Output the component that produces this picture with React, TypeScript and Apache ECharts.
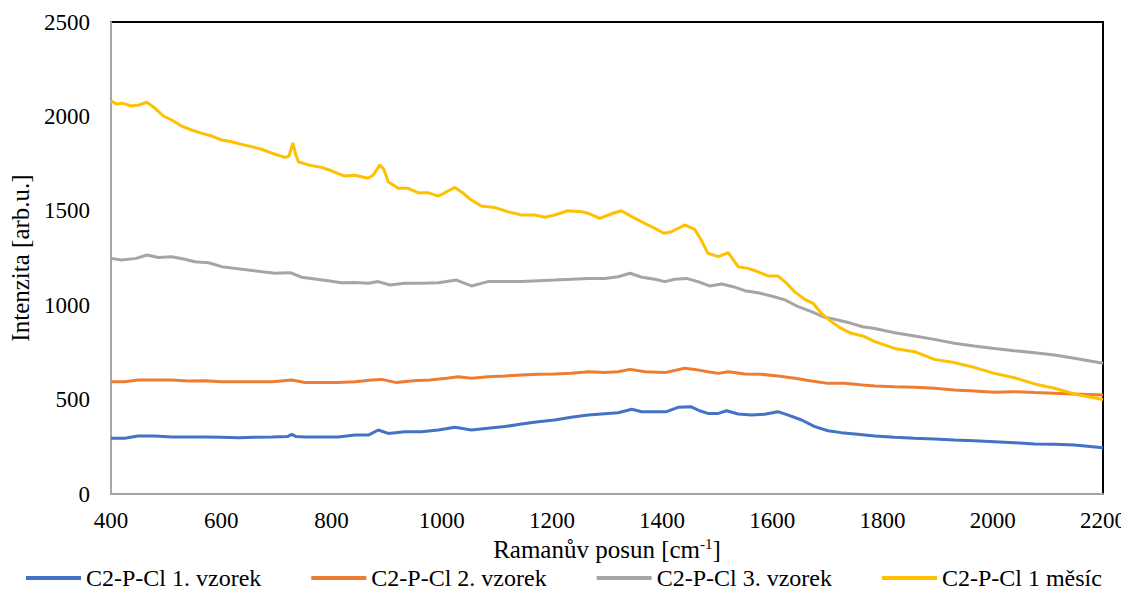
import React, { useEffect, useRef } from "react";
import * as echarts from "echarts";

const seriesNames = ["C2-P-Cl 1. vzorek", "C2-P-Cl 2. vzorek", "C2-P-Cl 3. vzorek", "C2-P-Cl 1 měsíc"];
const seriesColors = ["#4472C4", "#ED7D31", "#A5A5A5", "#FFC000"];

const blueX = [400, 425, 449, 479, 510, 540, 570, 601, 631, 661, 692, 720, 728, 736, 752, 782, 812, 843, 867, 885, 903, 933, 963, 994, 1024, 1054, 1084, 1115, 1145, 1175, 1205, 1235, 1266, 1296, 1320, 1345, 1363, 1387, 1408, 1429, 1453, 1468, 1483, 1502, 1517, 1538, 1562, 1586, 1610, 1629, 1653, 1677, 1701, 1725, 1750, 1786, 1822, 1858, 1894, 1930, 1966, 2003, 2039, 2076, 2112, 2148, 2200];
const blueY = [295, 295, 307, 307, 302, 302, 302, 300, 298, 300, 302, 304, 316, 304, 302, 302, 302, 312, 312, 339, 321, 330, 330, 339, 353, 339, 348, 357, 371, 383, 392, 406, 418, 425, 430, 449, 436, 436, 436, 459, 462, 441, 427, 427, 441, 424, 418, 422, 436, 418, 392, 357, 335, 325, 318, 307, 300, 295, 291, 286, 282, 277, 272, 265, 263, 260, 245];

const orangeX = [400, 425, 449, 479, 510, 540, 570, 601, 631, 661, 692, 728, 752, 782, 812, 843, 873, 891, 918, 948, 979, 1009, 1030, 1054, 1084, 1115, 1145, 1175, 1205, 1235, 1266, 1296, 1320, 1342, 1369, 1405, 1441, 1459, 1483, 1502, 1520, 1550, 1580, 1610, 1641, 1671, 1701, 1731, 1764, 1786, 1822, 1858, 1894, 1930, 1966, 2003, 2039, 2076, 2112, 2148, 2200];
const orangeY = [595, 595, 604, 604, 604, 598, 600, 595, 595, 595, 595, 604, 591, 590, 590, 595, 604, 607, 590, 600, 604, 613, 621, 613, 621, 625, 630, 634, 636, 639, 648, 643, 648, 660, 648, 643, 666, 660, 648, 639, 648, 636, 634, 625, 613, 598, 586, 586, 577, 572, 568, 565, 560, 551, 546, 539, 542, 537, 533, 530, 524];

const grayX = [400, 419, 446, 465, 486, 510, 534, 552, 577, 601, 625, 649, 674, 698, 725, 746, 770, 794, 818, 843, 867, 885, 906, 933, 963, 994, 1027, 1054, 1084, 1115, 1145, 1175, 1205, 1235, 1266, 1296, 1320, 1342, 1363, 1387, 1405, 1423, 1444, 1465, 1486, 1508, 1529, 1550, 1574, 1598, 1623, 1647, 1671, 1695, 1719, 1743, 1764, 1786, 1822, 1858, 1894, 1930, 1966, 2003, 2039, 2076, 2112, 2148, 2200];
const grayY = [1248, 1239, 1248, 1266, 1253, 1257, 1243, 1230, 1225, 1204, 1195, 1186, 1177, 1169, 1172, 1148, 1139, 1130, 1119, 1120, 1116, 1125, 1107, 1116, 1116, 1119, 1133, 1102, 1125, 1125, 1125, 1130, 1133, 1137, 1142, 1142, 1151, 1169, 1148, 1137, 1125, 1137, 1142, 1125, 1102, 1112, 1098, 1077, 1066, 1049, 1028, 992, 966, 936, 922, 904, 886, 877, 854, 837, 819, 798, 784, 771, 759, 748, 736, 719, 692];

const yellowX = [400, 410, 420, 437, 450, 465, 480, 495, 510, 528, 546, 565, 583, 601, 619, 637, 655, 673, 692, 716, 723, 730, 735, 740, 758, 782, 800, 824, 843, 866, 876, 888, 895, 903, 921, 939, 957, 975, 994, 1009, 1024, 1039, 1054, 1072, 1096, 1120, 1145, 1169, 1187, 1205, 1229, 1254, 1266, 1287, 1311, 1326, 1345, 1368, 1387, 1403, 1417, 1441, 1459, 1471, 1483, 1502, 1520, 1538, 1556, 1574, 1592, 1610, 1625, 1640, 1659, 1674, 1689, 1707, 1725, 1743, 1764, 1786, 1822, 1858, 1894, 1930, 1966, 2003, 2039, 2076, 2112, 2148, 2200];
const yellowY = [2083, 2066, 2070, 2055, 2060, 2075, 2043, 2002, 1981, 1949, 1928, 1910, 1896, 1875, 1866, 1852, 1840, 1826, 1805, 1783, 1790, 1860, 1800, 1760, 1743, 1730, 1712, 1684, 1688, 1672, 1690, 1743, 1720, 1654, 1619, 1619, 1596, 1596, 1578, 1601, 1624, 1593, 1557, 1525, 1518, 1495, 1478, 1478, 1466, 1478, 1500, 1495, 1487, 1460, 1487, 1500, 1469, 1434, 1407, 1381, 1389, 1425, 1402, 1345, 1275, 1257, 1278, 1204, 1195, 1177, 1155, 1155, 1119, 1072, 1031, 1010, 957, 913, 877, 851, 837, 807, 771, 754, 713, 696, 671, 639, 616, 583, 560, 530, 501];

const xMin = 400, xMax = 2200, xStep = 200;
const yMin = 0, yMax = 2500, yStep = 500;

const FONT = "Liberation Serif";

function pairs(xs: number[], ys: number[]) {
  return xs.map((x, i) => [x, ys[i]]);
}

export default function App() {
  const ref = useRef<HTMLDivElement>(null);
  useEffect(() => {
    if (!ref.current) return;
    const chart = echarts.init(ref.current, undefined, { renderer: "svg" });
    const all = [pairs(blueX, blueY), pairs(orangeX, orangeY), pairs(grayX, grayY), pairs(yellowX, yellowY)];
    chart.setOption({
      animation: false,
      backgroundColor: "#ffffff",
      textStyle: { fontFamily: FONT, fontSize: 23 },
      grid: {
        left: 111, right: 25, top: 22, bottom: 100,
        show: true, borderColor: "#000000", borderWidth: 2, backgroundColor: "transparent",
      },
      legend: {
        top: 566,
        left: 26,
        padding: 0,
        itemWidth: 55,
        itemHeight: 4,
        itemGap: 50,
        icon: "rect",
        textStyle: { fontFamily: FONT, fontSize: 24, color: "#000" },
        data: seriesNames,
      },
      xAxis: {
        type: "value",
        min: xMin, max: xMax, interval: xStep,
        name: "Ramanův posun [cm{sup|-1}]",
        nameLocation: "middle",
        nameGap: 28,
        nameTextStyle: {
          fontFamily: FONT, fontSize: 25, color: "#000", lineHeight: 26,
          rich: { sup: { fontFamily: FONT, fontSize: 15, color: "#000", verticalAlign: "top", lineHeight: 15 } },
        },
        axisLine: { show: true, lineStyle: { color: "#a6a6a6", width: 2 } },
        axisTick: { show: false },
        splitLine: { show: false },
        axisLabel: { fontFamily: FONT, fontSize: 23, color: "#000", margin: 15, formatter: (v: number) => String(v) },
      },
      yAxis: {
        type: "value",
        min: yMin, max: yMax, interval: yStep,
        name: "Intenzita [arb.u.]",
        nameLocation: "middle",
        nameGap: 76,
        nameTextStyle: { fontFamily: FONT, fontSize: 25, color: "#000" },
        axisLine: { show: true, lineStyle: { color: "#a6a6a6", width: 2 } },
        axisTick: { show: false },
        splitLine: { show: false },
        axisLabel: { fontFamily: FONT, fontSize: 23, color: "#000", margin: 21, formatter: (v: number) => String(v) },
      },
      series: seriesNames.map((n, i) => ({
        name: n,
        type: "line",
        data: all[i],
        showSymbol: false,
        symbol: "none",
        color: seriesColors[i],
        lineStyle: { color: seriesColors[i], width: 3 },
        z: 2 + i,
      })),
    });
    return () => chart.dispose();
  }, []);
  return <div ref={ref} style={{ width: 1129, height: 594, margin: -8 }} />;
}
